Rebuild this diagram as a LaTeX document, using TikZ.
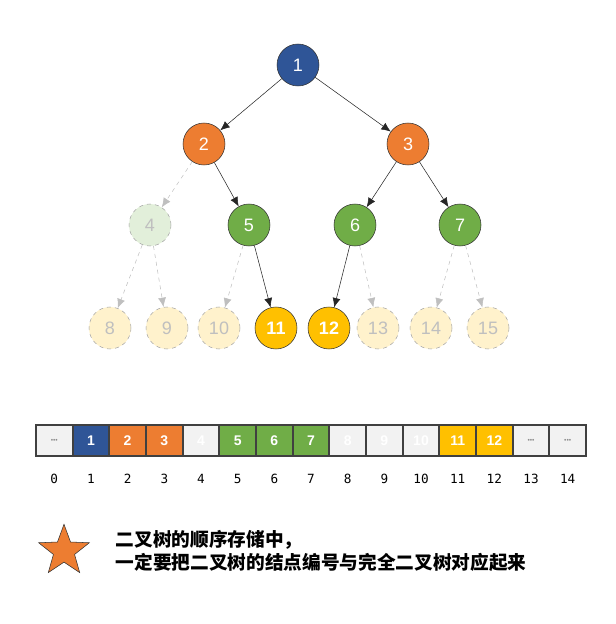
\documentclass[tikz,border=0pt]{standalone}
\usepackage{fontspec}
\setmainfont{Liberation Sans}
\newfontfamily\cjk{Noto Sans CJK SC}
\newfontfamily\idxfont{DejaVu Sans Mono}
\usetikzlibrary{shapes.geometric,arrows.meta}
\definecolor{cblue}{HTML}{2F5597}
\definecolor{corange}{HTML}{ED7D31}
\definecolor{cgreen}{HTML}{70AD47}
\definecolor{cyellow}{HTML}{FFC000}
\definecolor{cempty}{HTML}{F2F2F2}
\definecolor{cghostg}{HTML}{E2EFDA}
\definecolor{cghosty}{HTML}{FFF2CC}
\definecolor{cgtext}{HTML}{BFBFBF}
\newcommand{\celldots}{{\normalfont\tiny\textcolor{black!45}{\textbullet\textbullet\textbullet}}}
\tikzset{
  tnode/.style={circle,draw=black!80,minimum size=31.5pt,inner sep=0pt,text=white,font=\fontsize{13.5}{14}\selectfont},
  ghost/.style={circle,draw=black!35,dashed,minimum size=31.5pt,inner sep=0pt,text=cgtext,font=\fontsize{13.5}{14}\selectfont},
  edge/.style={-{Latex[length=7pt,width=6pt]},draw=black!85},
  gedge/.style={-{Latex[length=7pt,width=6pt]},draw=black!25,dashed},
  cell/.style={draw=black!75,line width=1.5pt,minimum width=27.5pt,minimum height=23.25pt,inner sep=0pt,text=white,font=\bfseries\fontsize{10.5}{11}\selectfont},
}
\begin{document}
\begin{tikzpicture}[x=0.75pt,y=-0.75pt]
    \useasboundingbox (0,0) rectangle (615,624);

    % tree
    \node[tnode,fill=cblue] (n1) at (298,65) {1};
    \node[tnode,fill=corange] (n2) at (204,144) {2};
    \node[tnode,fill=corange] (n3) at (408,144) {3};
    \node[ghost,fill=cghostg] (n4) at (150,225) {4};
    \node[tnode,fill=cgreen] (n5) at (249,225) {5};
    \node[tnode,fill=cgreen] (n6) at (355,225) {6};
    \node[tnode,fill=cgreen] (n7) at (460,225) {7};
    \node[ghost,fill=cghosty] (n8) at (110,328) {8};
    \node[ghost,fill=cghosty] (n9) at (167,328) {9};
    \node[ghost,fill=cghosty] (n10) at (219,328) {10};
    \node[tnode,fill=cyellow,font=\bfseries\fontsize{13.5}{14}\selectfont] (n11) at (276,328) {11};
    \node[tnode,fill=cyellow,font=\bfseries\fontsize{13.5}{14}\selectfont] (n12) at (329,328) {12};
    \node[ghost,fill=cghosty] (n13) at (378,328) {13};
    \node[ghost,fill=cghosty] (n14) at (431,328) {14};
    \node[ghost,fill=cghosty] (n15) at (488,328) {15};

    \draw[edge] (n1) -- (n2);
    \draw[edge] (n1) -- (n3);
    \draw[gedge] (n2) -- (n4);
    \draw[edge] (n2) -- (n5);
    \draw[edge] (n3) -- (n6);
    \draw[edge] (n3) -- (n7);
    \draw[gedge] (n4) -- (n8);
    \draw[gedge] (n4) -- (n9);
    \draw[gedge] (n5) -- (n10);
    \draw[edge] (n5) -- (n11);
    \draw[edge] (n6) -- (n12);
    \draw[gedge] (n6) -- (n13);
    \draw[gedge] (n7) -- (n14);
    \draw[gedge] (n7) -- (n15);

    % array
    \foreach \i/\lab/\col in {0/\celldots/cempty,1/1/cblue,2/2/corange,3/3/corange,4/4/cempty,
        5/5/cgreen,6/6/cgreen,7/7/cgreen,8/8/cempty,9/9/cempty,10/10/cempty,
        11/11/cyellow,12/12/cyellow,13/\celldots/cempty,14/\celldots/cempty} {
        \node[cell,fill=\col] (c\i) at (54.3+36.67*\i,440.5) {\lab};
        \node[font=\idxfont\fontsize{9.5}{10}\selectfont] (i\i) at (54.3+36.67*\i,479) {\i};
    }

    % note
    \node[star,star points=5,star point ratio=2.4,draw=black!80,fill=corange,minimum size=40pt,inner sep=0pt] (st) at (64,551) {};
    \node[anchor=west,align=left,font=\cjk\bfseries\fontsize{14}{17.5}\selectfont] (note) at (111,551)
        {二叉树的顺序存储中，\\一定要把二叉树的结点编号与完全二叉树对应起来};
\end{tikzpicture}
\end{document}
